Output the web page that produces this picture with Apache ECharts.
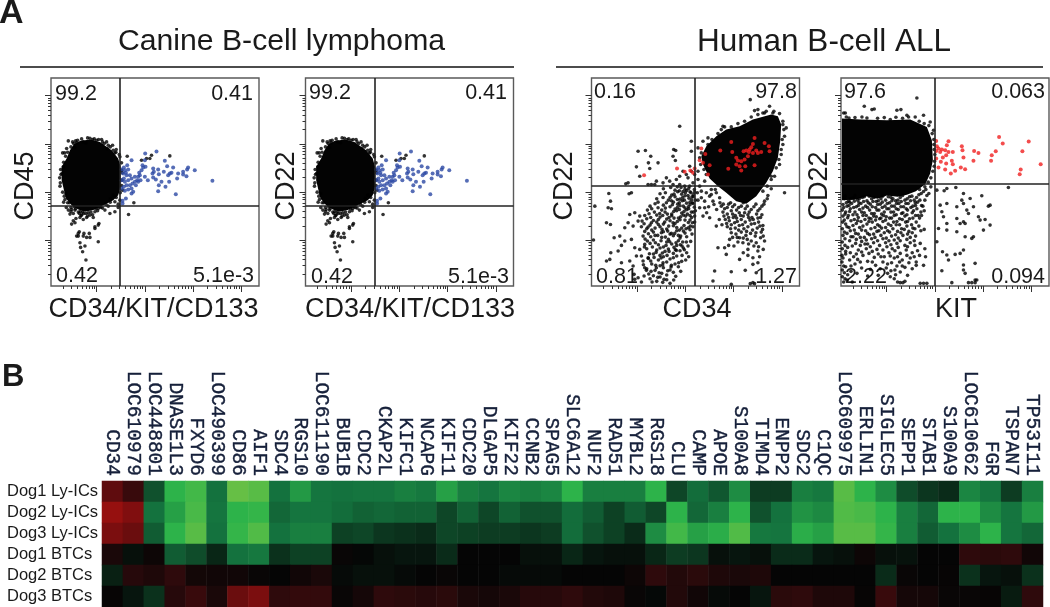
<!DOCTYPE html>
<html><head><meta charset="utf-8">
<style>html,body{margin:0;padding:0;background:#fff}#c{width:1050px;height:607px}</style>
<script src="https://cdn.jsdelivr.net/npm/echarts@6/dist/echarts.min.js"></script>
</head><body><div id="c"></div>
<script>
// ---------- Panel A: flow cytometry, values in display channels (0-625, 145 channels per decade)
const canineDense = [[87,436],[117,440],[147,433],[182,408],[202,383],[209,358],[209,298],[202,273],[187,258],[157,243],[127,228],[102,223],[82,230],[62,243],[45,263],[39,288],[32,318],[32,358],[47,383],[57,408],[69,426]];
const canineBlack = [[52,436],[65,433],[72,416],[47,413],[35,400],[41,400],[117,444],[125,440],[137,438],[152,440],[155,433],[167,433],[172,423],[185,423],[169,413],[187,408],[192,400],[77,430],[97,433],[105,430],[37,358],[33,338],[45,278],[42,260],[212,348],[215,288],[187,273],[179,263],[192,253],[202,246],[207,258],[202,236],[229,390],[249,250],[233,215],[272,378],[287,383],[302,393],[297,383],[357,391],[52,228],[62,230],[67,218],[72,228],[85,218],[57,216],[92,213],[105,218],[117,213],[132,223],[142,233],[162,228],[177,218],[192,223],[75,203],[87,206],[97,200],[107,206],[67,196],[72,190],[62,186],[127,206],[132,178],[142,183],[144,188],[85,163],[99,158],[82,150],[97,150],[107,146],[117,146],[115,158],[132,173],[102,120],[87,130],[89,116],[142,133],[95,103],[105,78],[82,158],[77,150],[30,335],[28,310],[205,395],[196,410],[150,236],[172,240],[120,222],[95,222],[55,250],
[80,438],[92,442],[110,445],[130,442],[143,440],[160,428],[178,418],[195,402],[207,388],[212,370],[214,340],[213,318],[212,302],[208,280],[196,266],[178,252],[165,246],[146,238],[135,232],[112,220],[98,218],[88,224],[74,232],[60,236],[50,250],[40,270],[35,282],[27,300],[26,325],[29,350],[38,372],[44,390],[50,402],[60,418],[68,428],[74,436],[70,238],[82,222],[90,212],[110,210],[125,214],[140,226],[155,234],[60,224],[46,236],[38,252]];
const canineBlue = [[317,404],[283,398],[242,378],[229,363],[219,356],[212,350],[222,348],[232,350],[225,340],[217,338],[227,333],[237,333],[219,323],[212,318],[222,313],[232,318],[242,323],[252,328],[262,328],[267,333],[269,318],[259,318],[252,313],[245,308],[237,303],[227,303],[219,298],[212,293],[222,286],[232,290],[242,293],[247,283],[242,278],[225,263],[215,256],[215,248],[262,313],[255,303],[272,348],[277,356],[275,363],[282,378],[284,358],[282,328],[291,318],[307,353],[322,350],[309,343],[305,338],[324,336],[307,326],[315,320],[342,376],[349,360],[339,343],[367,356],[362,340],[357,338],[382,338],[379,323],[352,333],[355,313],[332,313],[324,303],[344,298],[322,285],[375,276],[397,335],[409,350],[412,356],[407,330],[432,348],[485,316],[397,343],[265,340]];

const cd34Dense = [[540,515],[560,510],[570,485],[567,435],[560,385],[545,345],[525,310],[495,270],[465,247],[435,255],[405,280],[380,300],[355,323],[335,365],[330,390],[345,420],[375,450],[405,470],[445,480],[485,500]];
const cd34Black = [[477,560],[490,527],[500,530],[535,540],[525,525],[515,520],[545,520],[575,485],[585,475],[580,450],[575,425],[570,395],[565,365],[550,330],[540,320],[395,480],[390,470],[350,445],[335,435],[320,415],[300,435],[300,405],[140,405],[162,407],[178,390],[171,370],[135,358],[175,353],[200,370],[145,330],[110,310],[103,307],[247,410],[253,407],[265,480],[245,390],[252,377],[275,345],[285,335],[265,330],[255,320],[245,305],[235,315],[225,325],[215,310],[195,315],[190,305],[180,305],[170,305],[295,360],[300,345],[290,325],[310,335],[320,345],[320,320],[305,310],[325,300],[340,315],[295,300],[280,300],[265,305],
[52,278],[120,280],[113,277],[10,240],[57,255],[50,235],[60,232],[45,190],[57,185],[115,215],[130,220],[145,210],[140,195],[110,190],[100,175],[125,180],[6,138],[68,145],[85,150],[100,135],[58,100],[80,105],[55,80],[90,70],[45,75],[90,122],[120,140],[130,115],[135,90],[115,75],[125,60],[128,35],[130,20],[140,25],[150,12],[160,55],[165,47],[170,85],[150,90],[155,75],[145,110],[160,125],
[176,22],[196,14],[206,27],[226,19],[236,8],[172,36],[186,31],[211,38],[226,33],[246,41],[166,52],[191,47],[216,55],[236,48],[261,58],[181,66],[206,61],[226,72],[251,66],[271,74],[171,83],[201,78],[216,88],[236,81],[256,90],[186,96],[206,92],[221,104],[246,98],[266,106],[286,100],[166,112],[196,108],[216,117],[231,111],[256,122],[276,114],[176,128],[201,124],[226,132],[241,126],[261,136],[161,141],[186,138],[211,146],[231,140],[246,151],[266,144],[171,157],[191,152],[216,163],[236,156],[256,166],[281,159],[166,172],[181,168],[206,178],[226,171],[246,181],[271,174],[296,169],[158,187],[176,183],[196,192],[216,186],[236,196],[251,188],[266,199],[291,191],[166,202],[186,197],[206,207],[226,201],[241,211],[261,204],[276,213],[301,206],[173,217],[196,213],[221,222],[241,216],[256,226],[271,219],[286,229],[306,222],[181,232],[211,228],[236,238],[251,231],[266,241],[281,234],[296,244],[309,237],[191,247],[216,243],[246,252],[259,246],[273,256],[286,249],[301,259],[196,262],[231,258],[251,268],[266,261],[281,271],[293,264],[306,274],[206,277],[241,273],[259,283],[271,276],[286,287],[299,280],[309,290],[216,292],[251,288],[269,296],[281,291],[296,283],[306,268],[303,250],[291,238],[300,222],[283,210],[303,190],[291,175],[276,165],[268,150],[285,132],[272,120],[255,107],[240,62],[215,70],[195,55],
[325,235],[340,235],[335,210],[355,205],[375,180],[370,45],[365,15],[420,5],[420,43],[462,47],[495,40],[485,10],[477,7],[490,7],[400,115],[405,95],[445,145],[455,130],[470,110],[485,85],[500,105],[495,130],[480,135],[445,80],[485,65],[380,115],[580,280],[330,265],[345,280],[360,290],[340,255],[355,270],[375,280],[365,255],[385,265],
[390,240],[400,232],[412,246],[424,238],[436,228],[450,240],[462,232],[474,222],[488,238],[500,226],[512,240],[520,255],[530,272],[540,292],[395,222],[408,216],[420,226],[432,212],[444,220],[456,210],[470,214],[482,206],[496,216],[508,206],[402,200],[414,196],[426,206],[438,194],[450,200],[462,192],[476,198],[490,188],[502,192],[515,182],[408,178],[420,184],[432,174],[444,182],[458,172],[470,178],[484,168],[498,174],[510,162],[420,160],[434,156],[450,162],[464,152],[478,158],[492,150],[508,145],[415,140],[440,132],[468,140],[520,135],[505,88]];
const cd34Extra = [[182,12],[214,11],[247,18],[158,30],[199,26],[218,20],[253,29],[179,44],[203,40],[229,46],[268,44],[156,64],[193,62],[214,63],[239,57],[262,70],[283,78],[178,75],[188,86],[209,84],[227,92],[246,85],[272,92],[292,88],[174,97],[194,101],[213,99],[233,104],[252,109],[279,109],[159,117],[183,117],[206,114],[224,122],[248,116],[267,124],[290,120],[168,135],[192,130],[209,136],[235,133],[254,130],[274,132],[298,134],[155,150],[178,148],[199,152],[222,147],[240,158],[261,152],[286,148],[302,156],[160,164],[186,162],[210,160],[229,165],[250,158],[264,168],[284,172],[305,178],[150,178],[170,177],[191,174],[212,170],[232,180],[256,176],[278,182],[297,180],[152,195],[180,190],[201,185],[220,192],[245,190],[258,194],[281,198],[296,198],[310,192],[160,212],[178,206],[201,200],[214,212],[233,206],[248,204],[268,208],[288,216],[310,210],[168,228],[189,222],[205,218],[228,216],[247,224],[264,230],[278,224],[296,212],[312,226],[176,240],[200,235],[222,234],[243,244],[258,236],[276,240],[292,232],[305,248],[200,252],[225,250],[240,256],[264,250],[279,258],[296,252],[312,258],[215,266],[236,266],[258,260],[274,266],[290,272],[302,268],[222,280],[248,276],[264,286],[282,280],[292,293],[310,282],[238,296],[258,298],[275,284],
[386,250],[396,246],[408,236],[418,250],[430,244],[442,236],[456,250],[468,240],[480,230],[494,246],[506,232],[518,246],[528,262],[398,210],[412,206],[424,216],[436,204],[448,212],[460,220],[472,206],[486,200],[500,204],[512,214],[406,188],[418,172],[430,190],[442,168],[454,184],[466,164],[480,186],[494,160],[506,180],[514,170],[424,146],[438,146],[456,144],[472,126],[488,120],[502,118],[516,150],[428,120],[412,122],[456,100],[470,92],[500,70],[516,110],[392,184],[384,200],[376,230],[368,245],[352,238],[346,220],[320,258],[330,285],[318,280],[360,275],[372,290],
[350,425],[362,440],[380,458],[400,478],[420,478],[440,488],[460,495],[480,508],[500,515],[520,520],[548,525],[565,518],[575,495],[578,470],[573,440],[570,410],[563,380],[555,355],[540,330],[528,300],[515,285],[330,400],[325,385],[328,365],[338,350],[345,335]];
const cd34Red = [[330,413],[342,397],[325,378],[335,370],[355,363],[350,335],[257,353],[280,343],[297,347],[305,340],[310,353],[158,333],[387,407],[420,433],[423,403],[411,352],[435,385],[440,377],[450,375],[445,360],[435,365],[450,347],[462,360],[490,363],[457,405],[465,407],[473,403],[485,427],[490,445],[480,417],[495,407],[510,403],[520,430],[533,420],[535,405],[470,390],[460,380],[485,400],[500,400],[475,410]];

const kitDense = [[3,503],[58,500],[138,498],[208,500],[258,478],[273,438],[276,378],[268,338],[253,306],[225,285],[198,274],[170,268],[138,272],[110,262],[78,270],[45,260],[3,258]];
const kitBlack = [[70,540],[228,565],[93,530],[100,532],[168,528],[180,530],[8,520],[13,520],[16,508],[63,508],[148,500],[198,513],[203,508],[248,513],[223,508],[268,493],[278,468],[279,440],[280,410],[281,375],[276,345],[270,325],[262,312],[252,298],[236,290],
[503,296],[423,271],[443,240],[448,243],[388,263],[368,278],[345,296],[318,293],[310,286],[288,288],[318,248],[298,243],[363,258],[368,248],[348,238],[378,228],[398,238],[383,218],[303,223],[308,208],[318,188],[348,203],[368,193],[358,188],[373,188],[413,208],[418,198],[433,200],[448,183],[428,168],[293,173],[318,168],[348,163],[373,148],[393,143],[398,148],[288,133],[305,103],[318,93],[323,78],[343,95],[358,98],[368,108],[368,63],[403,68],[303,46],[368,48],[373,38],[403,18],[408,18],[383,10],[393,10],[403,10],[333,10],
[10,262],[22,255],[36,264],[50,258],[64,266],[78,256],[92,262],[106,254],[120,262],[134,258],[150,266],[164,256],[178,266],[192,258],[206,268],[220,258],[234,274],[248,284],[258,272],[6,245],[18,240],[32,248],[46,238],[60,248],[74,240],[88,246],[104,236],[118,246],[132,240],[146,250],[160,240],[174,248],[188,238],[202,248],[216,240],[230,252],[242,242],[252,258],[264,278],[270,298],
[4,228],[14,222],[28,232],[42,222],[56,230],[70,220],[86,228],[100,218],[114,228],[130,222],[144,232],[158,222],[172,230],[186,220],[200,228],[214,220],[228,232],[240,222],[6,210],[20,205],[36,214],[52,206],[66,212],[84,204],[98,210],[116,202],[128,212],[146,204],[160,212],[176,202],[192,210],[206,202],[224,212],[236,204],[250,226],
[5,192],[14,186],[30,196],[46,188],[60,194],[78,186],[94,192],[110,184],[126,194],[142,186],[158,192],[176,184],[194,192],[212,184],[226,192],[4,172],[24,176],[40,168],[56,176],[74,166],[90,172],[108,164],[122,174],[140,166],[156,172],[170,164],[190,170],[204,164],[222,172],[6,152],[18,158],[36,148],[52,156],[70,146],[86,154],[102,146],[120,152],[136,144],[152,150],[172,144],[186,152],[208,146],[224,150],[250,170],
[4,132],[26,136],[44,128],[62,134],[80,126],[98,130],[116,122],[134,130],[150,124],[168,128],[192,122],[208,130],[252,112],[238,128],[4,112],[20,116],[52,108],[76,112],[94,104],[126,108],[144,100],[162,106],[178,98],[196,108],[214,100],[230,106],[254,88],[3,92],[14,96],[38,88],[66,92],[100,86],[130,88],[160,84],[184,78],[208,84],[226,72],[248,62],[3,72],[8,60],[42,66],[58,72],[104,62],[140,66],[168,60],[192,56],[214,52],[226,62],[4,48],[10,40],[30,44],[150,46],[178,42],[200,32],[170,12],[178,10],[186,10],[192,14],[160,22],[148,28],[238,8],[248,8],[258,8],[12,22],[8,12],[4,28]];
const kitExtra = [[12,270],[28,262],[42,272],[55,262],[70,268],[85,270],[99,266],[112,256],[125,270],[142,268],[156,262],[171,258],[185,272],[199,262],[213,270],[227,266],[241,278],[255,290],[16,250],[26,252],[40,255],[54,250],[68,254],[82,250],[96,254],[110,245],[124,252],[139,248],[153,256],[167,248],[181,254],[195,248],[209,256],[223,250],[237,258],[8,236],[24,242],[38,236],[52,242],[66,234],[80,236],[94,238],[108,228],[124,236],[138,232],[152,240],[166,232],[180,238],[196,232],[210,236],[224,242],[246,240],[12,216],[26,224],[48,214],[62,222],[76,212],[92,218],[106,208],[122,216],[136,208],[150,222],[166,214],[182,218],[198,214],[218,226],[232,212],[10,198],[22,212],[40,200],[72,200],[90,202],[104,198],[120,204],[134,198],[152,204],[168,194],[184,200],[200,194],[216,204],[242,212],[18,178],[36,182],[50,196],[66,180],[84,194],[102,176],[116,180],[134,176],[150,182],[166,184],[182,172],[198,180],[216,174],[234,180],[10,162],[28,166],[44,158],[62,168],[80,158],[98,156],[114,166],[130,160],[146,162],[164,154],[180,160],[200,156],[214,160],[240,166],[12,142],[30,148],[46,140],[58,146],[76,138],[92,142],[110,136],[126,142],[144,136],[160,138],[178,136],[198,140],[220,136],[12,122],[34,120],[58,122],[72,126],[88,118],[108,110],[138,118],[154,112],[172,116],[200,118],[222,122],[14,104],[28,100],[46,96],[62,102],[84,98],[112,96],[120,88],[148,90],[170,88],[198,92],[236,92],[6,84],[26,78],[50,80],[80,74],[94,72],[126,72],[152,70],[176,72],[204,70],[220,88],[14,58],[30,60],[62,54],[88,50],[118,52],[136,54],[162,48],[184,60],[20,34],[48,38],[80,30],[112,32],[140,38],[164,34],[18,18],[34,12],
[24,505],[42,506],[78,505],[110,504],[130,506],[165,507],[185,504],[235,495],[250,488],[264,482],[274,458],[279,425],[282,395],[280,360]];
const kitRed = [[286,436],[288,420],[293,413],[286,406],[303,410],[313,408],[323,435],[318,423],[298,403],[323,403],[336,403],[316,393],[306,386],[286,383],[300,373],[333,376],[336,366],[316,368],[293,356],[313,350],[343,346],[330,338],[360,356],[373,351],[363,420],[365,408],[368,386],[400,406],[413,400],[398,376],[453,393],[451,376],[465,405],[475,448],[486,428],[564,434],[545,405],[600,366],[540,350],[537,336]];

const quadrantX = [207, 207, 310, 283];
const quadrantY = [240, 240, 300, 306];
const gateLabels = [["99.2","0.41","0.42","5.1e-3"],["99.2","0.41","0.42","5.1e-3"],["0.16","97.8","0.81","1.27"],["97.6","0.063","2.22","0.094"]];
const xNames = ["CD34/KIT/CD133","CD34/KIT/CD133","CD34","KIT"];
const yNames = ["CD45","CD22","CD22","CD22"];
const groupTitles = ["Canine B-cell lymphoma","Human B-cell ALL"];
const majorChannels = [137, 282, 427, 572];

// ---------- Panel B: heatmap (black = 0, green positive, red negative)
const samples = ["Dog1 Ly-ICs","Dog2 Ly-ICs","Dog3 Ly-ICs","Dog1 BTCs","Dog2 BTCs","Dog3 BTCs"];
const genes = ["CD34","LOC610979","LOC448801","DNASE1L3","FXYD6","LOC490399","CD86","AIF1","SDC4","RGS10","LOC611190","BUB1B","CDC2","CKAP2L","KIFC1","NCAPG","KIF11","CDC20","DLGAP5","KIF22","CCNB2","SPAG5","SLC6A12","NUF2","RAD51","MYBL2","RGS18","CLU","CAMP","APOE","S100A8","TIMD4","ENPP2","SDC2","C1QC","LOC609975","ERLIN1","SIGLEC5","SEPP1","STAB1","S100A9","LOC610662","FGR","TSPAN7","TP53I11"];
const dog1Ly = [-2,-1.2,0.7,2,2.3,1,2.8,2.6,1,1.6,1.05,1,1.05,1.05,1.2,1.1,1.7,1.2,1.05,1.3,1.2,1.3,2,1.2,1.2,1.2,2,0.6,0.95,0.75,1.4,0.5,0.5,1.2,1.1,2.6,2,1.4,0.65,0.45,0.35,1.3,1.05,0.5,1.2];
const dog2Ly = [-3,-2.6,1,1.7,2.4,1.05,2,2.1,0.9,1.05,1.05,0.95,0.85,0.9,0.85,0.85,0.6,0.85,0.6,0.85,0.7,0.7,0.95,0.8,0.55,0.8,0.6,2,0.9,1.2,2,0.7,1,1.5,1.35,2.5,2.4,2,1.2,0.9,2,2,1.4,1.05,1.6];
const dog3Ly = [-2.5,-2.2,0.8,2,2.6,1,2.1,2.5,1,1.2,1.2,0.55,0.6,0.45,0.4,0.35,0.6,0.55,0.5,0.5,0.45,0.5,0.95,0.7,0.55,0.35,1.4,2.3,1.7,1.9,2.5,1.1,1.05,1.9,1.7,2.6,2.6,2.1,1.2,0.8,1,1.4,2,1.05,0.9];
const dog1Btc = [-0.5,0.1,-0.2,0.8,0.65,0.3,1,1.1,0.4,0.55,0.55,-0.1,0.02,0.1,0.15,0.15,0.35,0,0,0,0.1,0.1,0.3,0.15,0.1,0.1,0.3,0.5,0.45,0.1,0.15,0.1,0.35,0.35,0.15,0.1,-0.2,0.1,0.12,0,0,-1,-0.9,-1,-0.3];
const dog2Btc = [0.25,-0.8,-0.6,-1,-0.35,-0.3,-0.3,-0.1,0,-0.3,-0.5,0.05,0.1,0.1,0.05,0,-0.1,0,0,0.05,0.05,0.05,0,0,0,-0.2,-1,-0.7,-0.9,-0.6,-0.5,-0.6,0,0,0,0,0,0.35,-0.1,0,-0.05,0.4,0.15,0.1,0.4];
const dog3Btc = [-0.05,0.15,0.4,-0.8,-1.2,-0.5,-2.2,-2.5,-1,-1.1,-1.1,-0.1,-0.4,-1,-0.9,-0.8,-0.9,-0.5,-0.4,-0.5,-0.8,-0.8,-1,-0.7,-0.6,-0.1,0.03,-0.7,-0.3,0.05,0,0.15,-0.9,-1,-0.6,-0.6,-0.05,-1.2,-0.4,-0.4,-0.1,-0.1,-0.05,0.2,-1];
const heatRows = [dog1Ly, dog2Ly, dog3Ly, dog1Btc, dog2Btc, dog3Btc];

// ---------- Layout
const panels = [
  {left:51,  top:78, dense:canineDense, black:canineBlack, color:canineBlue, tint:'#2c48a4'},
  {left:305.5, top:78, dense:canineDense, black:canineBlack, color:canineBlue, tint:'#2c48a4'},
  {left:591.5, top:78, dense:cd34Dense, black:cd34Black.concat(cd34Extra), color:cd34Red, tint:'#f01f1f'},
  {left:841, top:78, dense:kitDense, black:kitBlack.concat(kitExtra), color:kitRed, tint:'#f01f1f'}
];
const PW = 208, PH = 208, CH_MAX = 625;

const minorChannels = [];
[-8, 137, 282, 427].forEach(function(base){ /* logarithmic decade sub-ticks */
  for (let k = 2; k < 10; k++) {
    const v = base + 145 * Math.log10(k);
    if (v > 1 && v < CH_MAX) minorChannels.push(v);
  }
});

const grid = [], xAxis = [], yAxis = [], series = [], graphic = [];
const tickLine = {color:'#333', width:1};
panels.forEach(function(p, i){
  grid.push({left:p.left, top:p.top, width:PW, height:PH, show:true, borderColor:'#5a5a5a', borderWidth:1.4, backgroundColor:'#fff'});
  const base = {type:'value', gridIndex:i, min:0, max:CH_MAX, axisLine:{show:false}, axisLabel:{show:false}, splitLine:{show:false}};
  xAxis.push(Object.assign({}, base, {position:'bottom', axisTick:{show:true, length:6, lineStyle:tickLine, customValues:majorChannels}}));
  xAxis.push(Object.assign({}, base, {position:'bottom', axisTick:{show:true, length:3, lineStyle:tickLine, customValues:minorChannels}}));
  yAxis.push(Object.assign({}, base, {position:'left', axisTick:{show:true, length:6, lineStyle:tickLine, customValues:majorChannels}}));
  yAxis.push(Object.assign({}, base, {position:'left', axisTick:{show:true, length:3, lineStyle:tickLine, customValues:minorChannels}}));
  const xi = i*2, yi = i*2;
  series.push({type:'custom', xAxisIndex:xi, yAxisIndex:yi, data:[[0,0]], silent:true, z:2, clip:true,
    renderItem:function(params, api){
      return {type:'polygon', shape:{points:p.dense.map(function(v){return api.coord(v);})}, style:{fill:'#030303'}};
    }});
  series.push({type:'scatter', xAxisIndex:xi, yAxisIndex:yi, data:p.black, symbol:'circle', symbolSize:3.6, itemStyle:{color:'#000'}, silent:true, z:3});
  series.push({type:'scatter', xAxisIndex:xi, yAxisIndex:yi, data:p.color, symbol:'circle', symbolSize:4, itemStyle:{color:p.tint}, silent:true, z:4,
    markLine:{silent:true, symbol:'none', animation:false, label:{show:false}, lineStyle:{color:'#222', width:1.6, type:'solid'},
      data:[{xAxis:quadrantX[i]},{yAxis:quadrantY[i]}]}});
});

// heatmap grid
const hg = panels.length;
grid.push({left:102, top:481, width:941, height:126, show:false});
xAxis.push({type:'category', gridIndex:hg, data:genes, position:'top', axisLine:{show:false}, axisTick:{show:false}, splitLine:{show:false},
  axisLabel:{rotate:90, interval:0, margin:5, fontFamily:'"Liberation Mono"', fontSize:19.5, color:'#16203a', textBorderColor:'#16203a', textBorderWidth:0.4}});
yAxis.push({type:'category', gridIndex:hg, data:samples, inverse:true, axisLine:{show:false}, axisTick:{show:false}, splitLine:{show:false},
  axisLabel:{interval:0, align:'left', margin:95, fontFamily:'"Liberation Sans"', fontSize:16.5, color:'#1a1a1a'}});
const heatData = [];
heatRows.forEach(function(row, r){ row.forEach(function(v, c){ heatData.push([c, r, v]); }); });
const heatIndex = series.length;
series.push({type:'heatmap', xAxisIndex:hg*2, yAxisIndex:hg*2, data:heatData, silent:true, progressive:0, itemStyle:{borderWidth:0}});

// text
function txt(x, y, s, size, align, opts){
  graphic.push(Object.assign({type:'text', x:x, y:y, silent:true,
    style:{text:s, fontFamily:'"Liberation Sans"', fontSize:size, fill:'#1a1a1a', textAlign:align, textVerticalAlign:'middle'}}, opts||{}));
}
txt(-1, 14, 'A', 34, 'left'); graphic[graphic.length-1].style.fontWeight='bold';
txt(2, 377, 'B', 31, 'left'); graphic[graphic.length-1].style.fontWeight='bold';
txt(281.5, 42, groupTitles[0], 30.2, 'center');
txt(824, 42, groupTitles[1], 31.5, 'center');
graphic.push({type:'line', silent:true, shape:{x1:20,y1:67,x2:514,y2:67}, style:{stroke:'#111', lineWidth:1.5}});
graphic.push({type:'line', silent:true, shape:{x1:556,y1:67,x2:1043,y2:67}, style:{stroke:'#111', lineWidth:1.5}});

const gatePos = [
  [[55,94],[253,94],[56,276],[254,276]],
  [[309,93],[507,93],[311,277],[509,277]],
  [[594,92],[797,92],[596,277],[797,277]],
  [[844,92],[1045,92],[845,277],[1045,277]]
];
const xNameCenter = [153.5, 410, 697, 956];
const yNameCenter = [26, 287, 565, 820];
panels.forEach(function(p, i){
  gateLabels[i].forEach(function(s, k){
    txt(gatePos[i][k][0], gatePos[i][k][1], s, 21.5, k % 2 ? 'right' : 'left');
  });
  txt(xNameCenter[i], 310, xNames[i], 27, 'center');
  txt(yNameCenter[i], 186, yNames[i], 27, 'center', {rotation:Math.PI/2});
});

const option = {
  animation:false, backgroundColor:'#fff', grid:grid, xAxis:xAxis, yAxis:yAxis, series:series, graphic:{elements:graphic},
  visualMap:{show:false, seriesIndex:heatIndex, dimension:2, min:-3, max:3, calculable:false,
    inRange:{color:['#96100f','#5f0c0e','#2e0a0c','#050505','#14723e','#2db34a','#74c244']}}
};
const chart = echarts.init(document.getElementById('c'), null, {renderer:'canvas'});
chart.setOption(option);
</script>
</body></html>
